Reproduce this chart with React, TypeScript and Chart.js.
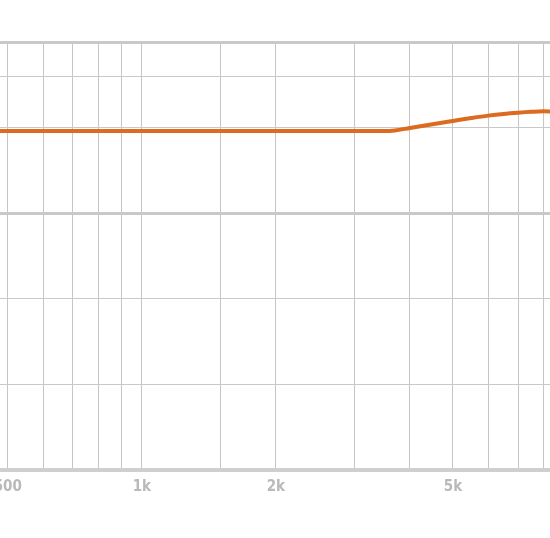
import { Chart, registerables } from 'chart.js';
import { useEffect, useRef } from 'react';

Chart.register(...registerables);

// frequency response (Hz -> dB)
const freqs = [450, 500, 700, 1000, 1500, 2000, 3000, 3500, 3700, 4000, 4500, 5000, 5500, 6000, 6500, 7000, 7500, 8000, 8500, 9000, 10000];
const levels = [4.8, 4.8, 4.8, 4.8, 4.8, 4.8, 4.8, 4.8, 4.83, 4.98, 5.2, 5.39, 5.56, 5.7, 5.8, 5.87, 5.92, 5.95, 5.93, 5.88, 5.8];

const freqGrid = [500, 600, 700, 800, 900, 1000, 1500, 2000, 3000, 4000, 5000, 6000, 7000, 8000, 9000, 10000];
const freqLabels: Record<number, string> = { 500: '500', 1000: '1k', 2000: '2k', 5000: '5k' };
const levelGrid = [-15, -10, -5, 0, 5, 8, 10];
const boldLevels = [0, 10];

const App = () => {
  const canvasRef = useRef<HTMLCanvasElement>(null);
  const chartRef = useRef<Chart | null>(null);

  useEffect(() => {
    const ctx = canvasRef.current?.getContext('2d');
    if (!ctx) return;
    chartRef.current = new Chart(ctx, {
      type: 'line',
      data: {
        datasets: [
          {
            data: freqs.map((f, i) => ({ x: f, y: levels[i] })),
            borderColor: '#dc6a1f',
            borderWidth: 4,
            pointRadius: 0,
            cubicInterpolationMode: 'monotone',
          },
        ],
      },
      options: {
        animation: false,
        responsive: true,
        maintainAspectRatio: false,
        layout: { autoPadding: false, padding: { top: 42, bottom: 34, left: 0, right: 0 } },
        plugins: { legend: { display: false }, tooltip: { enabled: false } },
        scales: {
          x: {
            type: 'logarithmic',
            min: 450,
            max: 10000,
            afterBuildTicks: (scale) => {
              scale.ticks = freqGrid.map((v) => ({ value: v }));
            },
            grid: { color: '#c6c6c6', lineWidth: 1, drawTicks: false },
            border: { color: '#cfcfcf', width: 4 },
            ticks: {
              autoSkip: false,
              maxRotation: 0,
              padding: 8,
              color: '#b9b9b9',
              // "condensed" goes into the font shorthand before the size
              font: { family: "'DejaVu Sans', sans-serif", size: 15, weight: 'bold condensed' as any },
              callback: (v) => freqLabels[Number(v)] ?? '',
            },
          },
          y: {
            min: -15,
            max: 10,
            afterBuildTicks: (scale) => {
              scale.ticks = levelGrid.map((v) => ({ value: v }));
            },
            grid: {
              drawTicks: false,
              color: '#c9c9c9',
              lineWidth: (c) => (boldLevels.includes(c.tick?.value) ? 3 : 1),
            },
            border: { display: false },
            ticks: { display: false },
          },
        },
      },
    });
    return () => {
      chartRef.current?.destroy();
      chartRef.current = null;
    };
  }, []);

  return (
    <div style={{ position: 'fixed', left: 0, top: 0, width: 550, height: 538, overflow: 'hidden', background: '#fff' }}>
      <div style={{ position: 'absolute', left: -14, top: 0, width: 609, height: 538 }}>
        <canvas ref={canvasRef} />
      </div>
    </div>
  );
};

export default App;
